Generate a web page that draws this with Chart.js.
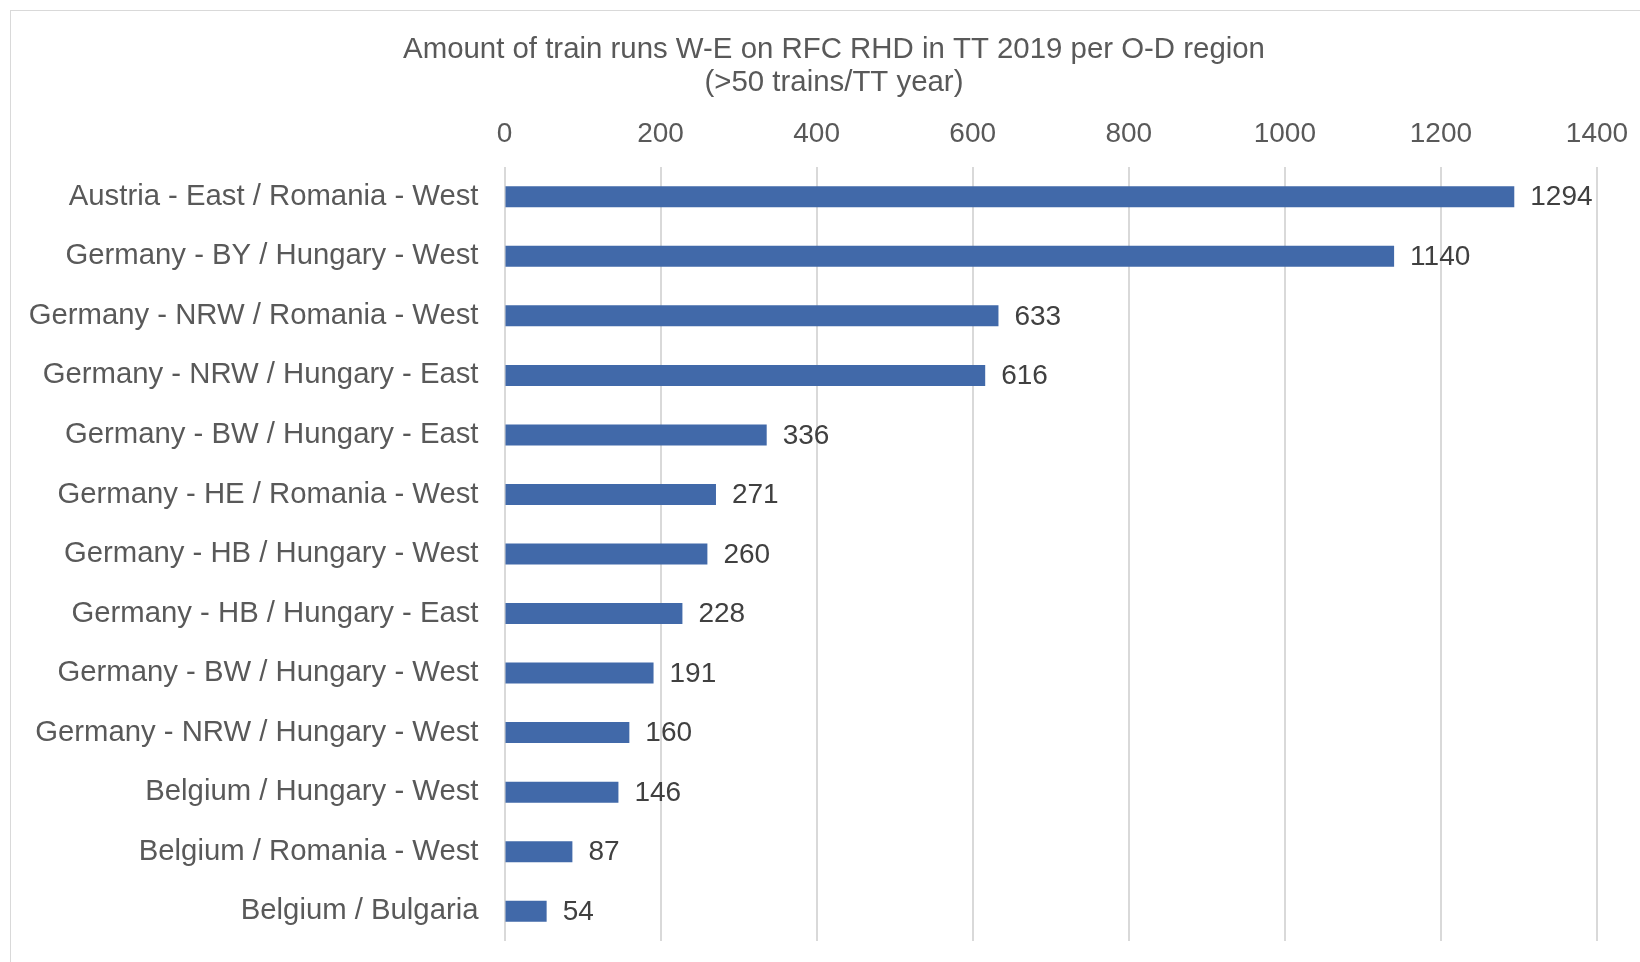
<!DOCTYPE html>
<html>
<head>
<meta charset="utf-8">
<script src="https://cdn.jsdelivr.net/npm/chart.js@4/dist/chart.umd.min.js"></script>
<style>
  html, body { margin: 0; padding: 0; background: #fff; overflow: hidden; }
  #frame {
    position: absolute; left: 10px; top: 10px;
    width: 1700px; height: 1000px;
    border: 1.5px solid #d9d9d9;
  }
  #chart { position: absolute; left: 0; top: 0; }
</style>
</head>
<body>
<div id="frame"></div>
<canvas id="chart" width="1640" height="962"></canvas>
<script>
const regions = [
    'Austria - East / Romania - West',
    'Germany - BY / Hungary - West',
    'Germany - NRW / Romania - West',
    'Germany - NRW / Hungary - East',
    'Germany - BW / Hungary - East',
    'Germany - HE / Romania - West',
    'Germany - HB / Hungary - West',
    'Germany - HB / Hungary - East',
    'Germany - BW / Hungary - West',
    'Germany - NRW / Hungary - West',
    'Belgium / Hungary - West',
    'Belgium / Romania - West',
    'Belgium / Bulgaria',
];
const trainRuns = [1294, 1140, 633, 616, 336, 271, 260, 228, 191, 160, 146, 87, 54];
const titleLines = [
    'Amount of train runs W-E on RFC RHD in TT 2019 per O-D region',
    '(>50 trains/TT year)',
];

const fontFamily = '"Liberation Sans", Arial, sans-serif';
const textGrey = '#595959';

// title is centred over the whole frame, not over the plot, so draw it here
const frameTitle = {
    id: 'frameTitle',
    afterDraw(chart) {
        const ctx = chart.ctx;
        ctx.save();
        ctx.font = '29.4px ' + fontFamily;
        ctx.fillStyle = textGrey;
        ctx.textAlign = 'center';
        ctx.textBaseline = 'middle';
        titleLines.forEach((line, i) => {
            ctx.fillText(line, 834, 50 + i * 32.5);
        });
        ctx.restore();
    },
};

// draws the value next to the end of every bar
const valueLabels = {
    id: 'valueLabels',
    afterDatasetsDraw(chart) {
        const ctx = chart.ctx;
        const meta = chart.getDatasetMeta(0);
        ctx.save();
        ctx.font = '28px ' + fontFamily;
        ctx.fillStyle = '#404040';
        ctx.textAlign = 'left';
        ctx.textBaseline = 'middle';
        meta.data.forEach((bar, i) => {
            ctx.fillText(String(chart.data.datasets[0].data[i]), bar.x + 16, bar.y + 1);
        });
        ctx.restore();
    },
};

const ctx = document.getElementById('chart').getContext('2d');

new Chart(ctx, {
    type: 'bar',
    data: {
        labels: regions,
        datasets: [{
            data: trainRuns,
            backgroundColor: '#4169a9',
            borderWidth: 0,
            barPercentage: 0.353,
            categoryPercentage: 1,
        }],
    },
    options: {
        indexAxis: 'y',
        responsive: false,
        animation: false,
        layout: { padding: { left: 0, right: 43, top: 105, bottom: 21 } },
        plugins: {
            legend: { display: false },
            tooltip: { enabled: false },
            title: { display: false },
        },
        scales: {
            x: {
                position: 'top',
                min: 0,
                max: 1400,
                ticks: {
                    stepSize: 200,
                    color: textGrey,
                    padding: 16,
                    font: { family: fontFamily, size: 28, lineHeight: 1.2 },
                    callback: (v) => String(v),
                },
                grid: { color: '#d9d9d9', lineWidth: 2, drawTicks: false },
                border: { display: false },
                afterFit(scale) {
                    scale.height = 62;
                    scale.paddingLeft = 0;
                    scale.paddingRight = 0;
                },
            },
            y: {
                ticks: {
                    color: textGrey,
                    padding: 26,
                    font: { family: fontFamily, size: 29.3 },
                },
                grid: { display: false, drawTicks: false },
                border: { display: false },
                afterFit(scale) {
                    scale.width = 504.5;
                    scale.paddingTop = 0;
                    scale.paddingBottom = 0;
                },
            },
        },
    },
    plugins: [valueLabels, frameTitle],
});
</script>
</body>
</html>
